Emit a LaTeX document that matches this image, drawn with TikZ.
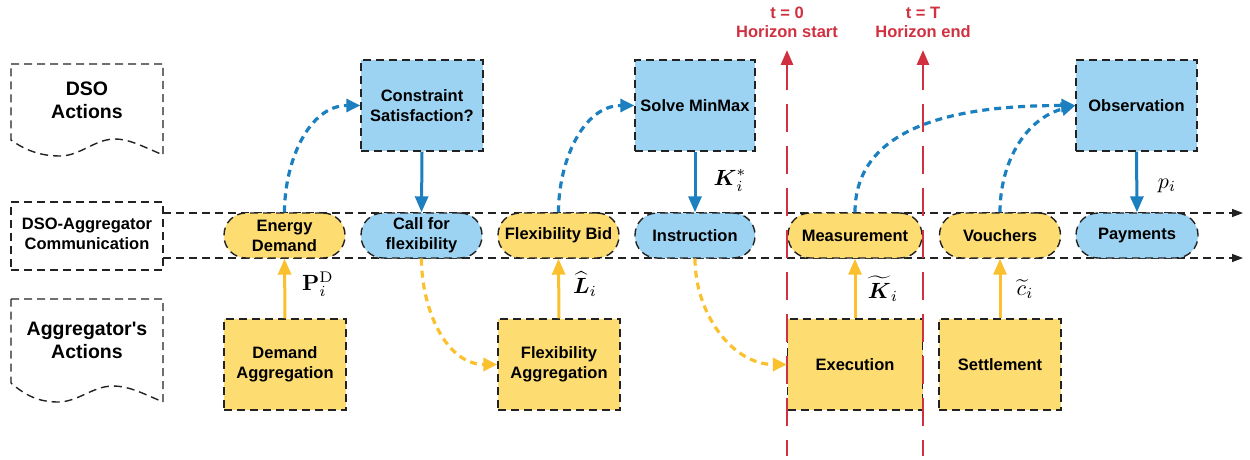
\documentclass[tikz,border=0pt]{standalone}
\usepackage{amsmath}
\usepackage[no-math]{fontspec}
\setmainfont{Liberation Sans}
\newfontfamily\plainsans{Liberation Sans}
\usetikzlibrary{arrows.meta}
\definecolor{bfill}{HTML}{9DD3F2}
\definecolor{yfill}{HTML}{FDDC72}
\definecolor{barrow}{HTML}{1B7FC0}
\definecolor{yarrow}{HTML}{FBC02D}
\definecolor{redl}{HTML}{D03040}
\definecolor{dgray}{HTML}{222222}
\begin{document}
\begin{tikzpicture}[x=1pt,y=-1pt,
  every node/.style={font=\fontsize{16.5}{20}\selectfont\bfseries, align=center, inner sep=0pt},
  dline/.style={draw=dgray, line width=1.4pt, dash pattern=on 8pt off 5pt},
  box/.style={dline, minimum width=122pt, minimum height=91pt},
  pill/.style={dline, rounded corners=22pt, minimum height=45pt, minimum width=121pt},
  dsobox/.style={box, fill=bfill},
  aggbox/.style={box, fill=yfill},
  bpill/.style={pill, fill=bfill},
  ypill/.style={pill, fill=yfill},
  bigtext/.style={font=\fontsize{19.5}{23}\selectfont\bfseries},
  mlabel/.style={font=\normalsize},
  redlabel/.style={font=\fontsize{16.5}{19}\selectfont\bfseries, text=redl},
  tip/.style={-{Triangle[length=16pt,width=13pt]}},
  bsolid/.style={tip, draw=barrow, line width=3pt},
  ysolid/.style={tip, draw=yarrow, line width=3pt},
  bdash/.style={-{Triangle[length=14pt,width=13pt]}, draw=barrow, line width=3.2pt, dash pattern=on 7pt off 5pt},
  ydash/.style={-{Triangle[length=14pt,width=13pt]}, draw=yarrow, line width=3.2pt, dash pattern=on 7pt off 5pt},
  hline/.style={draw=dgray, line width=1.4pt, dash pattern=on 8pt off 5pt, -{Triangle[length=11pt,width=8pt]}},
  redline/.style={draw=redl, line width=2.8pt, dash pattern=on 28pt off 14pt, dash phase=12pt, -{Triangle[length=15pt,width=12pt]}}
]
\useasboundingbox (0,0) rectangle (1250,460);

% left labels
\draw[dline] (11,64) -- (163,64) -- (163,155)
  .. controls (140,145) and (128,139) .. (115,139)
  .. controls (95,139) and (80,156) .. (60,156)
  .. controls (40,156) and (25,150) .. (11,140) -- cycle;
\node[bigtext] (dsoact) at (87,100) {DSO\\Actions};

\node[dline, minimum width=152pt, minimum height=68pt] (comm) at (87,236) {};
\node (commtext) at (87,234) {DSO-Aggregator\\Communication};

\draw[dline] (11,299) -- (163,299) -- (163,402)
  .. controls (140,392) and (128,386) .. (113,386)
  .. controls (93,386) and (78,402) .. (58,402)
  .. controls (38,402) and (25,395) .. (11,383) -- cycle;
\node[bigtext] (aggact) at (87,340) {Aggregator{\plainsans\bfseries\char39}s\\Actions};

% horizontal communication lines
\coordinate (l1a) at (163,213);
\coordinate (l1b) at (1243,213);
\coordinate (l2a) at (163,258);
\coordinate (l2b) at (1243,258);
\draw[hline] (l1a) -- (l1b);
\draw[hline] (l2a) -- (l2b);

% red horizon lines
\coordinate (t0top) at (787,50);
\coordinate (t0bot) at (787,456);
\coordinate (tTtop) at (923,50);
\coordinate (tTbot) at (923,456);
\node[redlabel] (t0lab) at (787,22.5) {t = 0\\Horizon start};
\node[redlabel] (tTlab) at (923,22.5) {t = T\\Horizon end};

% DSO boxes
\node[dsobox] (cs) at (422,105.5) {Constraint\\Satisfaction?};
\node[dsobox, minimum width=120pt] (mm) at (695,105.5) {Solve MinMax};
\node[dsobox, minimum width=121pt] (obs) at (1136.5,105.5) {Observation};

% communication pills
\node[ypill] (ed) at (284.5,235.5) {Energy\\Demand};
\node[bpill] (cf) at (421.5,235.5) {Call for\\flexibility};
\node[ypill] (fb) at (558.5,235.5) {Flexibility Bid};
\node[bpill, minimum width=120pt] (ins) at (695,235.5) {Instruction};
\node[ypill, minimum width=134pt] (meas) at (855,235.5) {Measurement};
\node[ypill] (vou) at (1000,235.5) {Vouchers};
\node[bpill, minimum width=122pt] (pay) at (1137,235.5) {Payments};

% aggregator boxes
\node[aggbox] (da) at (285,364.5) {Demand\\Aggregation};
\node[aggbox] (fa) at (559,364.5) {Flexibility\\Aggregation};
\node[aggbox, minimum width=135pt] (ex) at (855,364.5) {Execution};
\node[aggbox] (set) at (1000,364.5) {Settlement};

\draw[redline] (t0bot) -- (t0top);
\draw[redline] (tTbot) -- (tTtop);

% arrows
\draw[ysolid] (da.north) -- (ed.south);
\draw[bdash] (ed.north) to[out=90,in=180] (cs.west);
\draw[bsolid] (cs.south) -- (cf.north);
\draw[ydash] (cf.south) to[out=-90,in=180] (fa.west);
\draw[ysolid] (fa.north) -- (fb.south);
\draw[bdash] (fb.north) to[out=90,in=180] (mm.west);
\draw[bsolid] (mm.south) -- (ins.north);
\draw[ydash] (ins.south) to[out=-90,in=180] (ex.west);
\draw[ysolid] (ex.north) -- (meas.south);
\draw[bdash] (meas.north) to[out=90,in=180] (obs.west);
\draw[bdash] (vou.north) to[out=90,in=195] (obs.west);
\draw[ysolid] (set.north) -- (vou.south);
\draw[bsolid] (obs.south) -- (pay.north);

% math labels
\node[mlabel] (lp) at (318,284) {\scalebox{2.2}{$\mathbf{P}_i^{\mathrm{D}}$}};
\node[mlabel] (ll) at (585,284) {\scalebox{2.2}{$\widehat{\boldsymbol{L}}_i$}};
\node[mlabel] (lk) at (730,180) {\scalebox{2.2}{$\boldsymbol{K}_i^{*}$}};
\node[mlabel] (lkt) at (883,289) {\scalebox{2.2}{$\widetilde{\boldsymbol{K}}_i$}};
\node[mlabel] (lc) at (1025,289) {\scalebox{2.2}{$\widetilde{c}_i$}};
\node[mlabel] (lpi) at (1167,186) {\scalebox{2.2}{$p_i$}};
\end{tikzpicture}
\end{document}
